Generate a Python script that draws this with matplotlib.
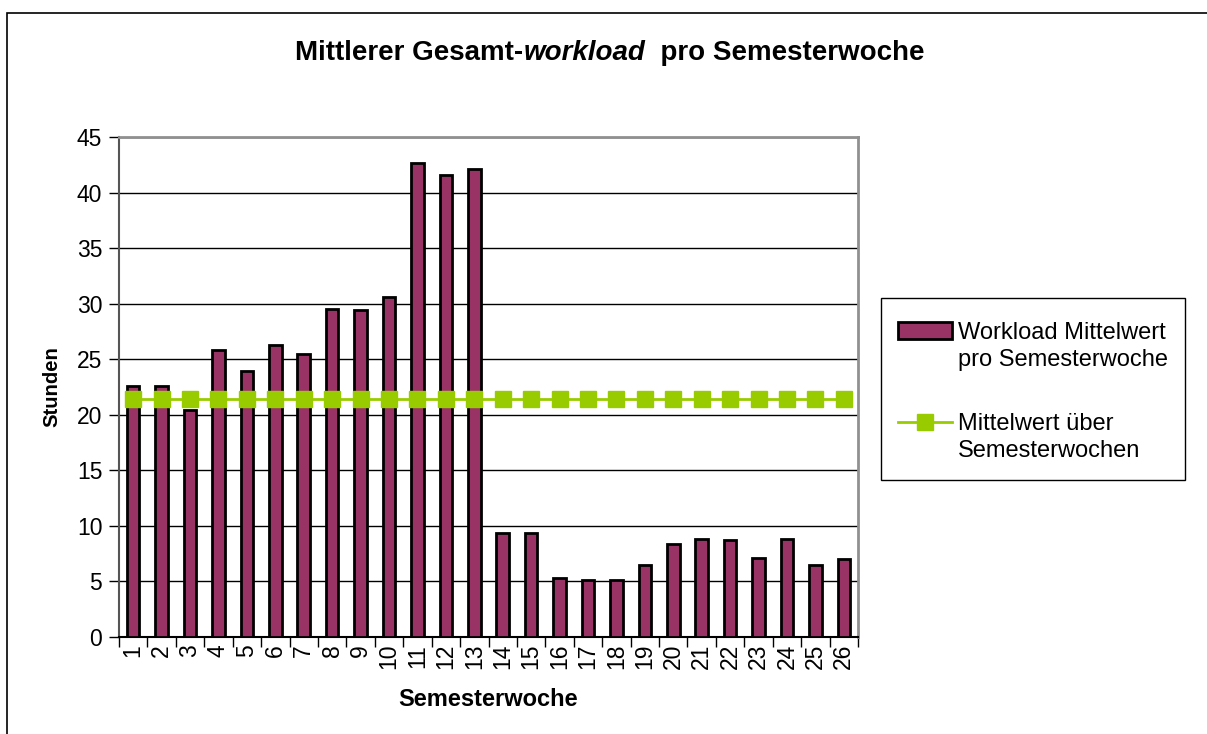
import numpy as np
import matplotlib
matplotlib.use("Agg")
import matplotlib.pyplot as plt
import matplotlib.patches as patches

plt.rcParams['font.family'] = ['Liberation Sans', 'DejaVu Sans']

weeks = [str(i) for i in range(1, 27)]
workload = [22.6, 22.6, 20.4, 25.8, 23.9, 26.3, 25.5, 29.5, 29.4, 30.6, 42.7, 41.6, 42.1,
            9.4, 9.4, 5.3, 5.1, 5.1, 6.5, 8.4, 8.8, 8.7, 7.1, 8.85, 6.5, 7.0]
mean_line = [21.4, 21.4, 21.4, 21.4, 21.4, 21.4, 21.4, 21.4, 21.4, 21.4, 21.4, 21.4, 21.4,
             21.4, 21.4, 21.4, 21.4, 21.4, 21.4, 21.4, 21.4, 21.4, 21.4, 21.4, 21.4, 21.4]
y_ticks = [0, 5, 10, 15, 20, 25, 30, 35, 40, 45]
bar_label = ['Workload Mittelwert', 'pro Semesterwoche']
line_label = ['Mittelwert über', 'Semesterwochen']

W, H = 1207, 734
fig = plt.figure(figsize=(W / 100, H / 100), dpi=100)

# outer chart border (cut off at right and bottom)
fig.patches.append(patches.Rectangle((7 / W, -0.05), 1.1, 1 - 13 / H + 0.05,
                                     transform=fig.transFigure, fill=False,
                                     edgecolor='black', linewidth=1.2))

ax = fig.add_axes([119 / W, 1 - 637 / H, (858 - 119) / W, (637 - 137) / H])
x = np.arange(len(weeks))
bars = ax.bar(x, workload, width=0.44, color='#993366', edgecolor='black', linewidth=2,
              zorder=3)
line, = ax.plot(x, mean_line, color='#99CC00', linewidth=2, marker='s', markersize=11,
                markeredgecolor='#99CC00', zorder=4)

ax.set_xlim(-0.5, len(weeks) - 0.5)
ax.set_ylim(0, 45)
ax.set_yticks(y_ticks)
ax.yaxis.grid(True, color='black', linewidth=1)
ax.set_axisbelow(True)

ax.set_xticks(x)
ax.set_xticklabels(weeks, rotation=90, fontsize=16.5)
ax.tick_params(axis='x', length=0, pad=5)
ax.set_xticks(np.arange(-0.5, len(weeks)), minor=True)
ax.tick_params(axis='x', which='minor', length=7, width=1, direction='out')
ax.tick_params(axis='y', labelsize=16.5, length=7, width=1, direction='out', pad=5)

for s in ['top', 'right']:
    ax.spines[s].set_color('#909090')
    ax.spines[s].set_linewidth(2)
ax.spines['left'].set_color('#555555')
ax.spines['left'].set_linewidth(1.5)
ax.spines['bottom'].set_color('black')
ax.spines['bottom'].set_linewidth(1.5)

ax.set_ylabel('Stunden', fontsize=14.6, fontweight='bold', labelpad=11)
ax.set_xlabel('Semesterwoche', fontsize=17, fontweight='bold', labelpad=13)

# legend: frame drawn by hand, two frameless legends so handles sit on first text line
fig.patches.append(patches.Rectangle((881 / W, 1 - 480 / H), (1185 - 881) / W, (480 - 298) / H,
                                     transform=fig.transFigure, fill=False,
                                     edgecolor='black', linewidth=1))
blank = patches.Rectangle((0, 0), 1, 1, fill=False, edgecolor='none')
leg_kw = dict(loc='upper left', fontsize=17, frameon=False, handlelength=2.3,
              handleheight=0.7, labelspacing=0.2, borderpad=0, handletextpad=0.25,
              borderaxespad=0)
leg1 = fig.legend([bars, blank], bar_label, bbox_to_anchor=(898 / W, 1 - 322 / H), **leg_kw)
leg2 = fig.legend([line, blank], line_label, bbox_to_anchor=(898 / W, 1 - 413 / H), **leg_kw)

# title in three pieces (bold, bold italic, bold)
t_size = 20
parts = [('Mittlerer Gesamt-', 'normal'), ('workload', 'italic'), ('  pro Semesterwoche', 'normal')]
texts = []
for s, st in parts:
    texts.append(fig.text(0, 1 - 59.5 / H, s, fontsize=t_size, fontweight='bold',
                          fontstyle=st, va='baseline', ha='left'))
fig.canvas.draw()
r = fig.canvas.get_renderer()
widths = [t.get_window_extent(r).width for t in texts]
x0 = 610 - sum(widths) / 2
for t, w in zip(texts, widths):
    t.set_x(x0 / W)
    x0 += w

fig.savefig('out.png', dpi=100)
